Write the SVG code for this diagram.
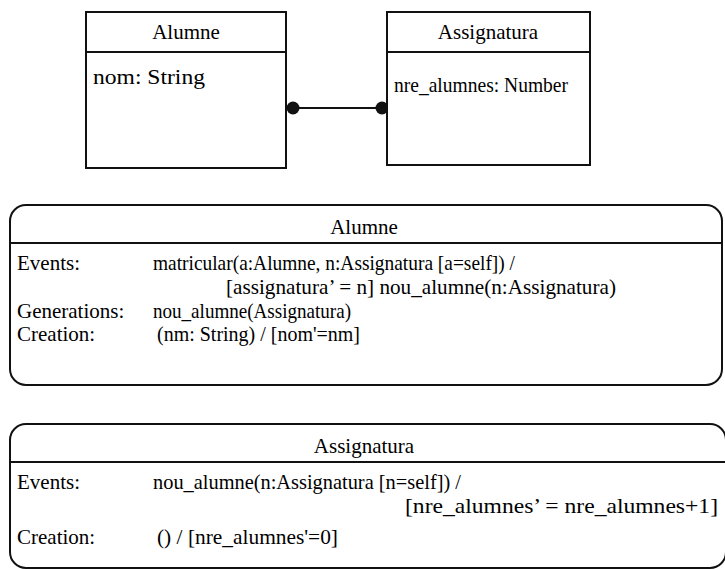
<svg xmlns="http://www.w3.org/2000/svg" width="725" height="569" viewBox="0 0 725 569">
  <defs>
    <!-- shared end dot for the association line -->
    <circle id="end-dot" r="6.5" fill="#111111"/>
  </defs>

  <!-- connectors -->
  <g id="connectors">
    <line x1="292" y1="108" x2="382" y2="108" stroke="#111111" stroke-width="2"/>
    <use href="#end-dot" x="293" y="108"/>
    <use href="#end-dot" x="382" y="108"/>
  </g>

  <!-- class Alumne -->
  <g id="class-alumne">
    <rect x="86" y="12" width="200" height="156" fill="#ffffff" stroke="#111111" stroke-width="2"/>
    <line x1="86" y1="52" x2="286" y2="52" stroke="#111111" stroke-width="2"/>
    <text x="186" y="39" text-anchor="middle" font-family="Liberation Serif" font-size="21">Alumne</text>
    <text x="93" y="84" font-family="Liberation Serif" font-size="21" textLength="112" lengthAdjust="spacingAndGlyphs">nom: String</text>
  </g>

  <!-- class Assignatura -->
  <g id="class-assignatura">
    <rect x="387" y="12" width="203" height="153" fill="#ffffff" stroke="#111111" stroke-width="2"/>
    <line x1="387" y1="52" x2="590" y2="52" stroke="#111111" stroke-width="2"/>
    <text x="488" y="39" text-anchor="middle" font-family="Liberation Serif" font-size="21">Assignatura</text>
    <text x="394" y="92" font-family="Liberation Serif" font-size="21" textLength="174" lengthAdjust="spacingAndGlyphs">nre_alumnes: Number</text>
  </g>

  <!-- behaviour of Alumne -->
  <g id="spec-alumne">
    <rect x="10" y="205" width="712" height="180" rx="16" ry="16" fill="#ffffff" stroke="#111111" stroke-width="2"/>
    <line x1="10" y1="243" x2="722" y2="243" stroke="#111111" stroke-width="2"/>
    <text x="364" y="234" text-anchor="middle" font-family="Liberation Serif" font-size="21">Alumne</text>
    <text x="17" y="270" font-family="Liberation Serif" font-size="21">Events:</text>
    <text x="153" y="270" font-family="Liberation Serif" font-size="21" textLength="362" lengthAdjust="spacingAndGlyphs">matricular(a:Alumne, n:Assignatura [a=self]) /</text>
    <text x="226" y="294" font-family="Liberation Serif" font-size="21" textLength="390" lengthAdjust="spacingAndGlyphs">[assignatura’ = n] nou_alumne(n:Assignatura)</text>
    <text x="17" y="318" font-family="Liberation Serif" font-size="21">Generations:</text>
    <text x="153" y="318" font-family="Liberation Serif" font-size="21" textLength="198" lengthAdjust="spacingAndGlyphs">nou_alumne(Assignatura)</text>
    <text x="17" y="341" font-family="Liberation Serif" font-size="21">Creation:</text>
    <text x="157" y="341" font-family="Liberation Serif" font-size="21" textLength="203" lengthAdjust="spacingAndGlyphs">(nm: String) / [nom'=nm]</text>
  </g>

  <!-- behaviour of Assignatura -->
  <g id="spec-assignatura">
    <rect x="10" y="424" width="716" height="144" rx="16" ry="16" fill="#ffffff" stroke="#111111" stroke-width="2"/>
    <line x1="10" y1="462" x2="725" y2="462" stroke="#111111" stroke-width="2"/>
    <text x="364" y="453" text-anchor="middle" font-family="Liberation Serif" font-size="21">Assignatura</text>
    <text x="17" y="489" font-family="Liberation Serif" font-size="21">Events:</text>
    <text x="153" y="489" font-family="Liberation Serif" font-size="21" textLength="308" lengthAdjust="spacingAndGlyphs">nou_alumne(n:Assignatura [n=self]) /</text>
    <text x="405" y="513" font-family="Liberation Serif" font-size="21" textLength="313" lengthAdjust="spacingAndGlyphs">[nre_alumnes’ = nre_alumnes+1]</text>
    <text x="17" y="544" font-family="Liberation Serif" font-size="21">Creation:</text>
    <text x="157" y="544" font-family="Liberation Serif" font-size="21" textLength="181" lengthAdjust="spacingAndGlyphs">() / [nre_alumnes'=0]</text>
  </g>
</svg>
